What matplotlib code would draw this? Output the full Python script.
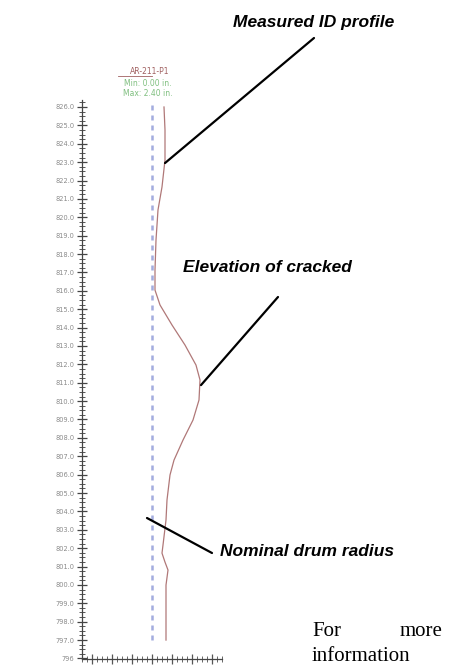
import matplotlib
matplotlib.use("Agg")
import matplotlib.pyplot as plt
from matplotlib.lines import Line2D
from matplotlib.ticker import MultipleLocator

# elevation tick labels (top to bottom) and profile
elev_ticks = [826.0 - i for i in range(31)]
tick_labels = ["%.1f" % e for e in elev_ticks[:-1]] + ["%d" % elev_ticks[-1]]

# measured ID profile: elevation vs radius deviation from nominal (in.)
prof_elev = [826.00, 824.75, 823.12, 821.65, 820.40, 818.76, 817.13, 816.04,
             815.23, 814.14, 813.05, 811.96, 811.15, 810.06, 808.97, 807.88,
             806.79, 805.98, 804.62, 803.53, 802.17, 801.73, 801.24, 800.81,
             799.99, 797.00]
prof_dev = [0.60, 0.65, 0.65, 0.50, 0.30, 0.20, 0.15, 0.15,
            0.40, 1.00, 1.65, 2.20, 2.40, 2.35, 2.05, 1.55,
            1.10, 0.90, 0.75, 0.70, 0.55, 0.50, 0.65, 0.80,
            0.70, 0.70]
nominal = 0.0
nominal_span = (797.0, 826.2)

W, H = 453, 667
fig = plt.figure(figsize=(W / 100, H / 100), dpi=100)
fig.patch.set_facecolor("white")

ax = fig.add_axes([82 / W, (H - 659) / H, 140 / W, 559 / H])
ax.set_xlim(-3.5, 3.5)
ax.set_ylim(795.97, 826.38)

# nominal drum radius (blue dashed) and measured profile
ax.plot([nominal, nominal], nominal_span, color="#a3acdf", lw=1.8,
        ls=(0, (2, 2)))
ax.plot(prof_dev, prof_elev, color="#b07878", lw=0.9)

ax.spines["top"].set_visible(False)
ax.spines["right"].set_visible(False)
for s in ("left", "bottom"):
  ax.spines[s].set_color("#444444")
  ax.spines[s].set_linewidth(0.9)

ax.set_yticks(elev_ticks, labels=tick_labels)
ax.yaxis.set_minor_locator(MultipleLocator(0.25))
ax.xaxis.set_major_locator(MultipleLocator(1.0))
ax.xaxis.set_minor_locator(MultipleLocator(0.25))
ax.tick_params(axis="y", which="major", direction="inout", length=7,
               width=0.9, color="#444444", labelsize=4.8, labelcolor="#8a8a8a",
               pad=2)
ax.tick_params(axis="y", which="minor", direction="inout", length=4,
               width=0.7, color="#555555")
ax.tick_params(axis="x", which="major", direction="inout", length=7,
               width=0.9, color="#555555", labelbottom=False)
ax.tick_params(axis="x", which="minor", direction="inout", length=4,
               width=0.7, color="#666666")

# small header inside the plot
fig.text(150 / W, (H - 72) / H, "AR-211-P1", ha="center", va="center",
         fontsize=5.5, color="#a06060")
fig.add_artist(Line2D([118 / W, 152 / W], [(H - 75.5) / H] * 2,
                      transform=fig.transFigure, color="#a06060", lw=0.6))
fig.text(148 / W, (H - 83) / H, "Min: 0.00 in.", ha="center", va="center",
         fontsize=5.5, color="#7fbf7f")
fig.text(148 / W, (H - 94) / H, "Max: 2.40 in.", ha="center", va="center",
         fontsize=5.5, color="#7fbf7f")

# callouts
lab_kw = dict(fontsize=12.5, fontweight="bold", fontstyle="italic",
              family="Liberation Sans", color="black")
fig.text(314, H - 23, "Measured ID profile", ha="center", va="center",
         transform=None, **lab_kw)
fig.text(183, H - 268, "Elevation of cracked", ha="left", va="center",
         transform=None, **lab_kw)
fig.text(220, H - 552, "Nominal drum radius", ha="left", va="center",
         transform=None, **lab_kw)

arr = dict(arrowstyle="-", lw=1.6, color="black", shrinkA=0, shrinkB=0)
ax.annotate("", xy=(0.65, 822.95), xycoords="data",
            xytext=(314, H - 38), textcoords="figure pixels", arrowprops=arr)
ax.annotate("", xy=(2.45, 810.87), xycoords="data",
            xytext=(278, H - 297), textcoords="figure pixels", arrowprops=arr)
ax.annotate("", xy=(-0.25, 803.64), xycoords="data",
            xytext=(212, H - 553), textcoords="figure pixels", arrowprops=arr)

# body text from the page
body_kw = dict(fontsize=15, family="Liberation Serif", color="black",
               transform=None)
fig.text(312, H - 632, "For", ha="left", va="center", **body_kw)
fig.text(442, H - 632, "more", ha="right", va="center", **body_kw)
fig.text(312, 1, "information", ha="left", va="bottom", **body_kw)

fig.savefig("out.png", dpi=100)
